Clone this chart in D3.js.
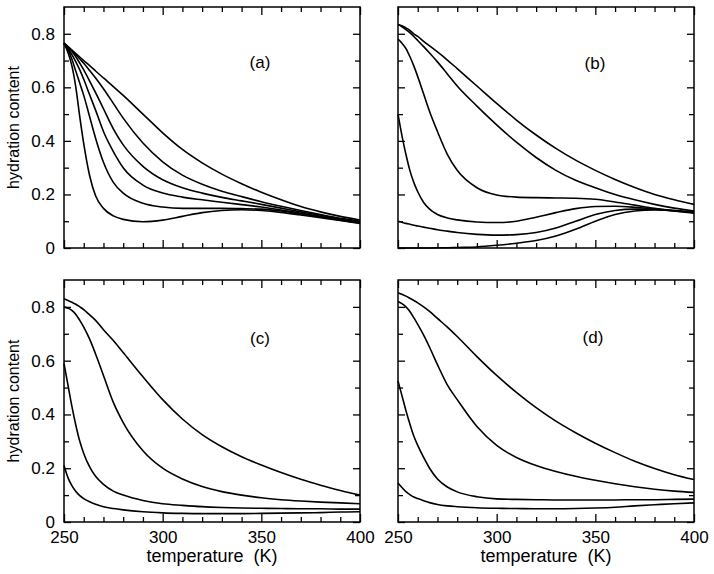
<!DOCTYPE html>
<html>
<head>
<meta charset="utf-8">
<script src="https://cdn.jsdelivr.net/npm/d3@7"></script>
<style>
  html, body { margin: 0; padding: 0; background: #fff; }
  svg { display: block; }
  text { font-family: "Liberation Sans", Arial, Helvetica, sans-serif; fill: #000; }
</style>
</head>
<body>
<svg id="chart" width="714" height="574"></svg>
<script>
// ---------- data ----------
const temps = [250, 252, 254, 256, 258, 260, 263, 266, 270, 275, 280, 290, 300, 310, 320, 330, 340, 350, 360, 370, 380, 390, 400];

const panelA = [
  [.765, .752, .739, .726, .713, .700, .681, .661, .635, .603, .570, .500, .430, .368, .318, .276, .240, .208, .180, .155, .135, .118, .104],
  [.765, .752, .738, .722, .706, .690, .663, .635, .595, .540, .485, .392, .322, .272, .238, .212, .192, .173, .156, .140, .125, .111, .100],
  [.765, .750, .734, .714, .690, .665, .623, .580, .520, .445, .385, .305, .255, .225, .205, .189, .176, .163, .149, .135, .122, .109, .098],
  [.765, .745, .722, .695, .665, .630, .572, .515, .435, .360, .300, .235, .205, .190, .180, .171, .162, .153, .142, .130, .118, .106, .095],
  [.765, .740, .705, .660, .615, .570, .490, .410, .320, .245, .205, .167, .153, .148, .148, .148, .147, .145, .138, .127, .116, .104, .093],
  [.765, .730, .680, .600, .490, .390, .270, .195, .148, .120, .107, .098, .104, .118, .132, .140, .143, .140, .133, .123, .113, .103, .092]
];

const panelB = [
  [.835, .830, .822, .813, .800, .790, .772, .755, .732, .702, .670, .605, .540, .478, .422, .372, .328, .290, .256, .226, .200, .180, .163],
  [.835, .826, .816, .804, .790, .775, .752, .728, .695, .650, .605, .530, .460, .395, .338, .290, .253, .225, .200, .180, .163, .149, .138],
  [.780, .765, .745, .715, .680, .640, .575, .510, .435, .350, .290, .225, .198, .190, .188, .187, .186, .182, .172, .160, .148, .138, .130],
  [.500, .420, .350, .290, .245, .210, .170, .145, .125, .112, .105, .097, .095, .100, .115, .132, .147, .155, .156, .152, .145, .138, .133],
  [.100, .096, .092, .089, .085, .082, .078, .074, .068, .063, .058, .051, .048, .050, .058, .075, .100, .125, .140, .145, .145, .140, .134],
  [.000, .000, .000, .000, .000, .000, .000, .000, .001, .001, .002, .004, .010, .018, .028, .045, .070, .100, .125, .138, .142, .140, .132]
];

const panelC = [
  [.830, .824, .817, .810, .800, .790, .770, .750, .715, .675, .630, .540, .455, .383, .325, .280, .243, .212, .184, .159, .137, .117, .100],
  [.800, .795, .787, .772, .750, .725, .680, .625, .545, .445, .370, .265, .200, .160, .132, .113, .100, .090, .083, .078, .074, .071, .068],
  [.590, .510, .430, .360, .300, .255, .205, .170, .140, .115, .100, .080, .068, .062, .057, .054, .052, .051, .050, .049, .049, .048, .048],
  [.210, .165, .135, .113, .098, .087, .075, .066, .057, .050, .045, .038, .034, .032, .031, .031, .031, .032, .033, .034, .035, .037, .038]
];

const panelD = [
  [.853, .847, .840, .832, .824, .815, .800, .783, .757, .725, .690, .615, .545, .482, .425, .375, .332, .293, .258, .226, .199, .176, .158],
  [.820, .812, .800, .783, .760, .735, .695, .650, .585, .510, .455, .355, .285, .240, .210, .188, .170, .155, .142, .131, .122, .115, .110],
  [.525, .470, .415, .365, .320, .285, .240, .200, .160, .130, .112, .094, .086, .084, .083, .082, .082, .082, .082, .083, .083, .084, .085],
  [.145, .128, .113, .102, .093, .087, .079, .072, .065, .060, .057, .053, .051, .050, .049, .049, .050, .052, .055, .060, .064, .068, .071]
];

const panelLabels = ["(a)", "(b)", "(c)", "(d)"];
const xMajor = [250, 300, 350, 400];
const xMinor = [260, 270, 280, 290, 310, 320, 330, 340, 360, 370, 380, 390];
const yMajor = [0, 0.2, 0.4, 0.6, 0.8];
const yMinor = [0.1, 0.3, 0.5, 0.7];
const yTitle = "hydration content";
const xTitle = "temperature  (K)";

// ---------- layout ----------
const svg = d3.select("#chart");
const panels = [
  { data: panelA, label: panelLabels[0], x0: 64, x1: 360, y0: 7, y1: 248, xl: false, yl: true, lx: 260, ly: 68 },
  { data: panelB, label: panelLabels[1], x0: 398, x1: 694, y0: 7, y1: 248, xl: false, yl: false, lx: 595, ly: 69 },
  { data: panelC, label: panelLabels[2], x0: 64, x1: 360, y0: 280, y1: 522, xl: true, yl: true, lx: 260, ly: 344 },
  { data: panelD, label: panelLabels[3], x0: 398, x1: 694, y0: 280, y1: 522, xl: true, yl: false, lx: 593, ly: 343 }
];

const fontSize = 17;

panels.forEach(p => {
  const x = d3.scaleLinear().domain([250, 400]).range([p.x0, p.x1]);
  const y = d3.scaleLinear().domain([0, 0.9]).range([p.y1, p.y0]);
  const g = svg.append("g");

  const styleAxis = sel => {
    sel.select(".domain").remove();
    sel.selectAll(".tick line").attr("stroke", "#000").attr("stroke-width", 1.3);
    sel.selectAll("text").style("font-family", '"Liberation Sans", Arial, Helvetica, sans-serif')
      .style("font-size", fontSize + "px").attr("fill", "#000");
  };

  // bottom
  g.append("g").attr("transform", `translate(0,${p.y1})`)
    .call(d3.axisBottom(x).tickValues(xMajor).tickSize(-8).tickPadding(9)
      .tickFormat(p.xl ? d3.format("d") : () => ""))
    .call(styleAxis);
  g.append("g").attr("transform", `translate(0,${p.y1})`)
    .call(d3.axisBottom(x).tickValues(xMinor).tickSize(-5).tickFormat(() => ""))
    .call(styleAxis);
  // top
  g.append("g").attr("transform", `translate(0,${p.y0})`)
    .call(d3.axisTop(x).tickValues(xMajor).tickSize(-8).tickFormat(() => ""))
    .call(styleAxis);
  g.append("g").attr("transform", `translate(0,${p.y0})`)
    .call(d3.axisTop(x).tickValues(xMinor).tickSize(-5).tickFormat(() => ""))
    .call(styleAxis);
  // left
  g.append("g").attr("transform", `translate(${p.x0},0)`)
    .call(d3.axisLeft(y).tickValues(yMajor).tickSize(-7).tickPadding(9)
      .tickFormat(p.yl ? (d => d === 0 ? "0" : d3.format(".1f")(d)) : () => ""))
    .call(styleAxis);
  g.append("g").attr("transform", `translate(${p.x0},0)`)
    .call(d3.axisLeft(y).tickValues(yMinor).tickSize(-5).tickFormat(() => ""))
    .call(styleAxis);
  // right
  g.append("g").attr("transform", `translate(${p.x1},0)`)
    .call(d3.axisRight(y).tickValues(yMajor).tickSize(-7).tickFormat(() => ""))
    .call(styleAxis);
  g.append("g").attr("transform", `translate(${p.x1},0)`)
    .call(d3.axisRight(y).tickValues(yMinor).tickSize(-5).tickFormat(() => ""))
    .call(styleAxis);

  // frame
  g.append("rect")
    .attr("x", p.x0).attr("y", p.y0)
    .attr("width", p.x1 - p.x0).attr("height", p.y1 - p.y0)
    .attr("fill", "none").attr("stroke", "#000").attr("stroke-width", 1.5);

  // curves
  const line = d3.line()
    .x((d, i) => x(temps[i]))
    .y(d => y(d))
    .curve(d3.curveMonotoneX);
  g.selectAll("path.curve").data(p.data).enter().append("path")
    .attr("class", "curve")
    .attr("d", line)
    .attr("fill", "none")
    .attr("stroke", "#000")
    .attr("stroke-width", 1.6)
    .attr("stroke-linejoin", "round");

  // panel label
  g.append("text").attr("x", p.lx).attr("y", p.ly)
    .attr("text-anchor", "middle").style("font-size", fontSize + "px").text(p.label);

  // axis titles
  if (p.xl) {
    g.append("text").attr("x", (p.x0 + p.x1) / 2).attr("y", 562)
      .attr("text-anchor", "middle").style("font-size", "18px")
      .style("white-space", "pre").attr("xml:space", "preserve").text(xTitle);
  }
  if (p.yl) {
    g.append("text")
      .attr("transform", `translate(19,${(p.y0 + p.y1) / 2}) rotate(-90)`)
      .attr("text-anchor", "middle").style("font-size", "16px").text(yTitle);
  }
});
</script>
</body>
</html>
